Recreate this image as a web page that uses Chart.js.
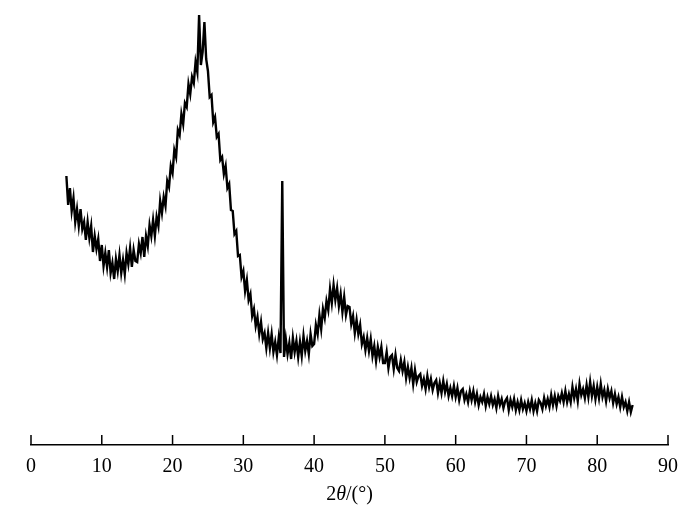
<!DOCTYPE html>
<html>
<head>
<meta charset="utf-8">
<script src="https://cdn.jsdelivr.net/npm/chart.js@4.4.1/dist/chart.umd.min.js"></script>
<style>
  html, body { margin: 0; padding: 0; background: #fff; }
</style>
</head>
<body>
<canvas id="xrdChart" width="700" height="519"></canvas>
<script>
// Scan settings (2θ start and step, degrees)
const startAngle = 5;
const stepAngle = 0.25;

// Tick labels of the 2θ axis
const xTicks = [0, 10, 20, 30, 40, 50, 60, 70, 80, 90];

// Intensity (a.u.), one value per step from 5° to 85°
const intensity = [
  269, 240, 257, 234, 247, 223, 236, 219, 236, 216, 223, 205, 223, 207, 219, 193, 209, 196, 206, 184, // 5 - 9.75
  200, 179, 192, 178, 195, 172, 182, 166, 186, 174, 190, 172, 185, 171, 192, 181, 197, 178, 195, 184, // 10 - 14.75
  183, 201, 192, 208, 188, 209, 199, 220, 209, 225, 209, 228, 219, 244, 232, 248, 239, 264, 258, 279, // 15 - 19.75
  272, 295, 288, 315, 310, 331, 321, 342, 338, 361, 351, 368, 362, 383, 373, 430, 380, 393, 423, 386, // 20 - 24.75
  374, 348, 350, 323, 328, 308, 311, 285, 288, 271, 279, 257, 261, 235, 234, 211, 214, 189, 190, 168, // 25 - 29.75
  174, 154, 165, 145, 151, 129, 136, 119, 128, 111, 123, 106, 112, 97, 112, 97, 111, 93, 103, 90,     // 30 - 34.75
  107, 92, 264, 88, 106, 91, 102, 86, 107, 93, 104, 88, 103, 89, 109, 94, 104, 91, 111, 99,           // 35 - 39.75
  101, 120, 111, 130, 116, 136, 127, 144, 135, 156, 142, 160, 145, 157, 139, 151, 133, 148, 130, 139, // 40 - 44.75
  138, 121, 129, 112, 125, 111, 120, 101, 108, 95, 107, 94, 106, 89, 99, 84, 98, 88, 98, 82,          // 45 - 49.75
  82, 93, 77, 88, 90, 76, 90, 77, 74, 85, 74, 83, 67, 78, 67, 77, 61, 75, 63, 69,                     // 50 - 54.75
  71, 59, 66, 56, 69, 58, 66, 55, 62, 65, 52, 62, 52, 64, 53, 61, 49, 57, 49, 59,                     // 55 - 59.75
  48, 57, 45, 54, 56, 45, 51, 43, 54, 45, 54, 43, 51, 40, 48, 43, 51, 39, 48, 41,                     // 60 - 64.75
  49, 40, 46, 37, 49, 40, 46, 37, 44, 47, 35, 45, 38, 46, 35, 43, 35, 45, 36, 42,                     // 65 - 69.75
  34, 43, 36, 45, 34, 42, 34, 45, 42, 36, 47, 39, 46, 38, 50, 40, 49, 39, 49, 44,                     // 70 - 74.75
  52, 43, 54, 43, 51, 43, 58, 47, 56, 44, 61, 50, 56, 47, 60, 48, 63, 49, 59, 46,                     // 75 - 79.75
  58, 47, 61, 48, 55, 44, 56, 47, 54, 42, 51, 41, 48, 38, 48, 38, 43, 34, 43, 33,                     // 80 - 84.75
  40                                                                                                  // 85
];

const twoTheta = intensity.map((_, i) => startAngle + i * stepAngle);
const xrdPoints = twoTheta.map((x, i) => ({ x: x, y: intensity[i] }));

// inward tick marks + axis title with italic theta
const axisExtras = {
  id: 'axisExtras',
  afterDraw(chart) {
    const { ctx, chartArea } = chart;
    const xScale = chart.scales.x;
    ctx.save();
    ctx.strokeStyle = '#000';
    ctx.lineWidth = 1.5;
    xScale.ticks.forEach(t => {
      const px = xScale.getPixelForValue(t.value);
      ctx.beginPath();
      ctx.moveTo(px, chartArea.bottom);
      ctx.lineTo(px, chartArea.bottom - 10);
      ctx.stroke();
    });

    const parts = [
      { text: '2', font: '20px "Liberation Serif"' },
      { text: 'θ', font: 'italic 20px "Liberation Serif"' },
      { text: '/(°)', font: '20px "Liberation Serif"' }
    ];
    let total = 0;
    parts.forEach(p => { ctx.font = p.font; p.w = ctx.measureText(p.text).width; total += p.w; });
    let tx = (xScale.left + xScale.right) / 2 - total / 2;
    ctx.fillStyle = '#000';
    ctx.textBaseline = 'middle';
    ctx.textAlign = 'left';
    parts.forEach(p => { ctx.font = p.font; ctx.fillText(p.text, tx, 495); tx += p.w; });
    ctx.restore();
  }
};

const ctxXrd = document.getElementById('xrdChart').getContext('2d');
const xrdChart = new Chart(ctxXrd, {
  type: 'line',
  data: {
    datasets: [{
      label: 'XRD',
      data: xrdPoints,
      borderColor: '#000',
      borderWidth: 2.4,
      pointRadius: 0,
      fill: false,
      tension: 0
    }]
  },
  options: {
    responsive: false,
    animation: false,
    layout: {
      padding: { top: 5, left: 31, right: 32, bottom: 30 }
    },
    plugins: {
      legend: { display: false },
      tooltip: { enabled: false }
    },
    scales: {
      x: {
        type: 'linear',
        min: 0,
        max: 90,
        afterBuildTicks: axis => { axis.ticks = xTicks.map(v => ({ value: v })); },
        grid: { drawOnChartArea: false, drawTicks: false },
        border: { display: true, color: '#000', width: 1.5 },
        ticks: {
          color: '#000',
          padding: 10,
          maxRotation: 0,
          font: { family: '"Liberation Serif"', size: 20 }
        }
      },
      y: {
        display: false,
        min: 0,
        max: 440
      }
    }
  },
  plugins: [axisExtras]
});
</script>
</body>
</html>
